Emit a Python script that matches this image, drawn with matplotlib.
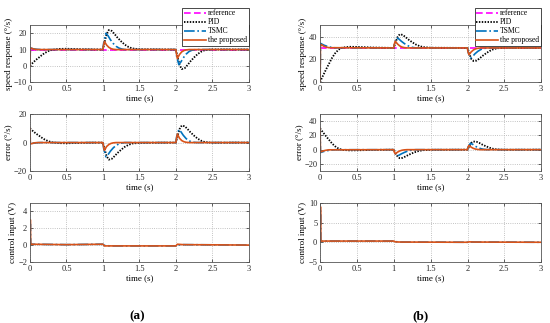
import numpy as np
import matplotlib
matplotlib.use('Agg')
import matplotlib.pyplot as plt

plt.rcParams['font.family'] = ['Liberation Serif', 'DejaVu Serif']

# ---- data ----
t_ref = [0, 3]
ref_a = [10, 10]
ref_b = [30, 30]

t_pid = [0, 0.02, 0.05, 0.08, 0.12, 0.16, 0.2, 0.25, 0.3, 0.4, 0.5, 0.7,
         1.0, 1.02, 1.05, 1.08, 1.12, 1.16, 1.2, 1.25, 1.3, 1.35, 1.4, 1.5,
         2.0, 2.02, 2.05, 2.08, 2.12, 2.16, 2.2, 2.25, 2.3, 2.35, 2.4, 2.5, 3.0]
t_tsmc = [0, 0.005, 0.02, 0.05, 0.1, 0.15, 0.2,
          1.0, 1.01, 1.04, 1.07, 1.1, 1.14, 1.18, 1.22, 1.26, 1.3,
          2.0, 2.01, 2.04, 2.07, 2.1, 2.14, 2.18, 2.22, 2.26, 2.3, 3.0]
t_prop = [0, 0.005, 0.02, 0.05, 0.08, 0.12,
          1.0, 1.005, 1.02, 1.05, 1.08, 1.11, 1.14, 1.18,
          2.0, 2.005, 2.02, 2.05, 2.08, 2.11, 2.14, 2.18, 3.0]

# (a) speed response
pid_a = [0, 1, 2.3, 3.6, 5, 6.5, 7.8, 9, 9.8, 10.4, 10.5, 10.2,
         10, 14, 19.5, 22, 21.5, 19.5, 17.3, 15, 13, 11.6, 10.7, 10.2,
         10, 6, 0.5, -2, -1.5, 0.5, 2.8, 5.2, 7.3, 8.8, 9.7, 10.1, 10]
tsmc_a = [0, 11.0, 10.8, 10.4, 10.1, 10.0, 10.0,
          10.0, 14, 20, 18.5, 16.2, 13.8, 12.0, 10.9, 10.3, 10.0,
          10.0, 6, 0.8, 2.5, 4.8, 7.2, 8.8, 9.6, 9.9, 10.0, 10.0]
prop_a = [0, 11, 10.8, 10.3, 10.1, 10.0,
          10, 12, 15, 12.8, 11.4, 10.6, 10.2, 10.0,
          10, 8, 4.5, 7.0, 8.6, 9.4, 9.8, 10.0, 10]

# (a) error
pid_err_a = [10, 9, 7.7, 6.4, 5, 3.5, 2.2, 1, 0.2, -0.4, -0.5, -0.2,
             0, -4, -9.5, -12, -11.5, -9.5, -7.3, -5, -3, -1.6, -0.7, -0.2,
             0, 4, 9.5, 12, 11.5, 9.5, 7.2, 4.8, 2.7, 1.2, 0.3, -0.1, 0]
tsmc_err_a = [10, -1, -0.8, -0.4, -0.1, 0, 0,
              0, -4, -10, -8.5, -6.2, -3.8, -2.0, -0.9, -0.3, 0,
              0, 4, 9.2, 7.5, 5.2, 2.8, 1.2, 0.4, 0.1, 0, 0]
prop_err_a = [10, -1, -0.8, -0.3, -0.1, 0,
              0, -2, -5.5, -2.8, -1.4, -0.6, -0.2, 0,
              0, 2, 6, 3.0, 1.4, 0.6, 0.2, 0, 0]

# (b) speed response
pid_b = [0, 3, 7, 11, 16, 21, 25, 28.5, 30.3, 31, 30.9, 30.4,
         30, 34, 39.5, 42, 41.5, 39.5, 37.3, 35, 33, 31.6, 30.7, 30.2,
         30, 26, 20.5, 18.5, 18.8, 20.5, 22.8, 25.2, 27.3, 28.8, 29.7, 30.1, 30]
tsmc_b = [0, 34, 33.5, 32.5, 31.3, 30.5, 30.1,
          30, 34, 39, 37.8, 36, 34, 32.3, 31.1, 30.4, 30,
          30, 26, 21, 22.5, 24.8, 27, 28.6, 29.5, 29.9, 30, 30]
prop_b = [0, 33, 32.8, 31.5, 30.8, 30.2,
          30, 33, 36, 33.5, 31.8, 30.8, 30.3, 30,
          30, 27, 24, 26.5, 28.2, 29.2, 29.7, 30, 30]

# (b) error
pid_err_b = [30, 27, 23, 19, 14, 9, 5, 1.5, -0.3, -1, -0.9, -0.4,
             0, -4, -9.5, -12, -11.5, -9.5, -7.3, -5, -3, -1.6, -0.7, -0.2,
             0, 4, 9.5, 11.5, 11.2, 9.5, 7.2, 4.8, 2.7, 1.2, 0.3, -0.1, 0]
tsmc_err_b = [30, -4, -3.5, -2.5, -1.3, -0.5, -0.1,
              0, -4, -9, -7.8, -6, -4, -2.3, -1.1, -0.4, 0,
              0, 4, 9, 7.5, 5.2, 3, 1.4, 0.5, 0.1, 0, 0]
prop_err_b = [30, -3, -2.8, -1.5, -0.8, -0.2,
              0, -3, -6, -3.5, -1.8, -0.8, -0.3, 0,
              0, 3, 6, 3.5, 1.8, 0.8, 0.3, 0, 0]

# control input
t_u = [0, 0.005, 0.01, 0.5, 1.0, 1.02, 1.1, 2.0, 2.02, 2.1, 3.0]
tsmc_u_a = [0, 2.5, 0.1, 0.05, 0.1, -0.05, -0.1, -0.1, 0.0, 0.05, 0.0]
prop_u_a = [0, 3, 0.1, 0.05, 0.1, -0.1, -0.1, -0.1, 0.1, 0.05, 0.0]
tsmc_u_b = [0, 8, 0.3, 0.3, 0.3, 0.15, 0.05, 0.0, 0.05, 0.05, 0.0]
prop_u_b = [0, 9, 0.3, 0.3, 0.3, 0.1, 0.05, 0.0, 0.1, 0.05, 0.0]

xticks = [0, 0.5, 1, 1.5, 2, 2.5, 3]
xticklabels = ['0', '0.5', '1', '1.5', '2', '2.5', '3']

c_ref = '#FF00FF'
c_pid = 'black'
c_tsmc = '#0072BD'
c_prop = '#D95319'
ls_pid = (0, (0.8, 0.8))


def style(ax, ylim, yticks, ylabel):
    ax.set_xlim(0, 3)
    ax.set_ylim(*ylim)
    ax.set_xticks(xticks)
    ax.set_xticklabels(xticklabels)
    ax.set_yticks(yticks)
    ax.tick_params(direction='in', length=2, width=0.5, labelsize=6, pad=2,
                   colors='#262626', top=True, right=True)
    ax.grid(True, linestyle=':', linewidth=0.6, color='#b0b0b0')
    for s in ax.spines.values():
        s.set_linewidth(0.6)
        s.set_color('#555555')
    ax.set_xlabel('time (s)', fontsize=6.5, labelpad=1)
    ax.set_ylabel(ylabel, fontsize=6.5, labelpad=1)


fig = plt.figure(figsize=(5.5, 3.23), dpi=100)

cols = [(0.0545, 0.398), (0.582, 0.402)]
rows = [(0.746, 0.176), (0.4706, 0.176), (0.189, 0.183)]

panels = [
    dict(ref=ref_a, pid=pid_a, tsmc=tsmc_a, prop=prop_a,
         pe=pid_err_a, te=tsmc_err_a, re=prop_err_a,
         tu=tsmc_u_a, ru=prop_u_a,
         ylims=[(-10, 25), (-20, 20), (-2, 5)],
         yticks=[[-10, 0, 10, 20], [-20, 0, 20], [-2, 0, 2, 4]],
         tag='(a)', tagx=0.249),
    dict(ref=ref_b, pid=pid_b, tsmc=tsmc_b, prop=prop_b,
         pe=pid_err_b, te=tsmc_err_b, re=prop_err_b,
         tu=tsmc_u_b, ru=prop_u_b,
         ylims=[(0, 50), (-30, 50), (-5, 10)],
         yticks=[[0, 20, 40], [-20, 0, 20, 40], [-5, 0, 5, 10]],
         tag='(b)', tagx=0.765),
]

for (left, width), p in zip(cols, panels):
    ax1 = fig.add_axes([left, rows[0][0], width, rows[0][1]])
    ax1.plot(t_ref, p['ref'], color=c_ref, ls=(0, (4, 2)), lw=1.2, label='reference')
    ax1.plot(t_pid, p['pid'], color=c_pid, ls=ls_pid, lw=1.3, label='PID')
    ax1.plot(t_tsmc, p['tsmc'], color=c_tsmc, ls='-.', lw=1.2, label='TSMC')
    ax1.plot(t_prop, p['prop'], color=c_prop, ls='-', lw=1.2, label='the proposed')
    style(ax1, p['ylims'][0], p['yticks'][0], 'speed response (°/s)')
    leg = ax1.legend(loc='upper right', bbox_to_anchor=(1.0, 1.31), borderaxespad=0,
                     fontsize=5.5, handlelength=2.8, labelspacing=0.12,
                     handletextpad=0.3, borderpad=0.25, fancybox=False,
                     framealpha=1, edgecolor='black')
    leg.get_frame().set_linewidth(0.5)

    ax2 = fig.add_axes([left, rows[1][0], width, rows[1][1]])
    ax2.plot(t_pid, p['pe'], color=c_pid, ls=ls_pid, lw=1.3)
    ax2.plot(t_tsmc, p['te'], color=c_tsmc, ls='-.', lw=1.2)
    ax2.plot(t_prop, p['re'], color=c_prop, ls='-', lw=1.2)
    style(ax2, p['ylims'][1], p['yticks'][1], 'error (°/s)')

    ax3 = fig.add_axes([left, rows[2][0], width, rows[2][1]])
    ax3.plot(t_u, p['tu'], color=c_tsmc, ls='-.', lw=1.2)
    ax3.plot(t_u, p['ru'], color=c_prop, ls='-', lw=1.2)
    style(ax3, p['ylims'][2], p['yticks'][2], 'control input (V)')

    fig.text(p['tagx'], 0.003, p['tag'], fontsize=9.5, fontweight='bold',
             ha='center', va='bottom')

fig.savefig('out.png', dpi=100)
